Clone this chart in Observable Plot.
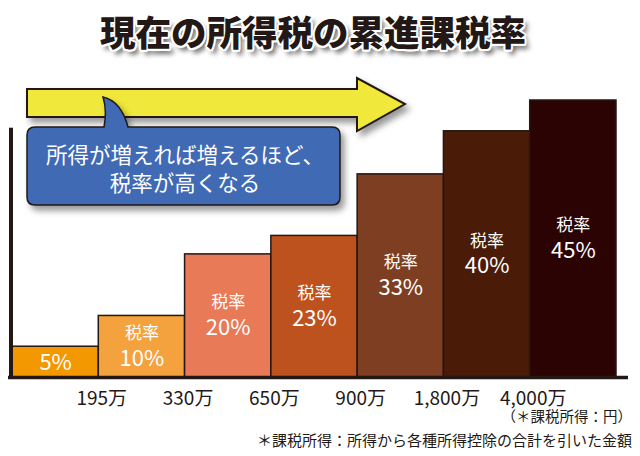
<!DOCTYPE html>
<html><head><meta charset="utf-8">
<script src="https://cdn.jsdelivr.net/npm/d3@7"></script>
<script src="https://cdn.jsdelivr.net/npm/@observablehq/plot@0.6"></script>
<style>
body{margin:0;background:#fff;font-family:"Noto Sans CJK JP","Noto Sans",sans-serif;color:#231815}
#wrap{position:relative;width:640px;height:456px;overflow:hidden;background:#fff}
#wrap > *{position:absolute}
#title{left:0;top:11px;width:626px;text-align:center;font-size:35.5px;line-height:40px;font-weight:900;color:#231815;
 text-shadow:2px 0 #fff,-2px 0 #fff,0 2px #fff,0 -2px #fff,1.5px 1.5px #fff,-1.5px -1.5px #fff,1.5px -1.5px #fff,-1.5px 1.5px #fff,4px 5px 5px rgba(0,0,0,0.6)}
.note{right:8px;font-size:15px;line-height:18px;color:#231815;white-space:nowrap}
</style></head><body><div id="wrap"></div>
<script>
// ---- data ----
const brackets = ["〜195万円", "195万〜330万円", "330万〜695万円", "695万〜900万円", "900万〜1,800万円", "1,800万〜4,000万円", "4,000万円〜"];
const rates = [5, 10, 20, 23, 33, 40, 45];
const rateTop = ["", "税率", "税率", "税率", "税率", "税率", "税率"];
const thresholds = ["195万", "330万", "650万", "900万", "1,800万", "4,000万"];
const barColors = ["#F39800", "#F3A23D", "#E87A57", "#BE521F", "#7E3E22", "#4A1B07", "#2C0303"];
const titleText = "現在の所得税の累進課税率";
const calloutLines = ["所得が増えれば増えるほど、", "税率が高くなる"];
const unitNote = "（＊課税所得：円）";
const defNote = "＊課税所得：所得から各種所得控除の合計を引いた金額";

const bars = brackets.map((b, i) => ({bracket: b, i, rate: rates[i], top: rateTop[i], pct: rates[i] + "%"}));
const ticks = thresholds.map((t, i) => ({label: t, pos: i + 1}));

const wrap = document.getElementById("wrap");

const chart = Plot.plot({
  width: 640, height: 456,
  marginLeft: 8, marginRight: 12, marginTop: 100, marginBottom: 79,
  x: {domain: [0, brackets.length], range: [12, 616], axis: null},
  y: {domain: [0, 45], axis: null},
  color: {domain: brackets, range: barColors},
  style: {fontFamily: '"Noto Sans CJK JP", sans-serif', background: "transparent", overflow: "visible"},
  marks: [
    Plot.rect(bars, {x1: "i", x2: d => d.i + 1, y1: 0, y2: "rate", fill: "bracket", stroke: "#231815", strokeWidth: 1.5}),
    Plot.text(bars.filter(d => d.top), {x: d => d.i + 0.5, y: d => d.rate / 2, text: "top", fill: "white", fontSize: 17, dy: -13}),
    Plot.text(bars.filter(d => d.top), {x: d => d.i + 0.5, y: d => d.rate / 2, text: "pct", fill: "white", fontSize: 22, dy: 12}),
    Plot.text(bars.filter(d => !d.top), {x: d => d.i + 0.5, y: d => d.rate / 2, text: "pct", fill: "white", fontSize: 22, dy: 1}),
    Plot.ruleY([0], {stroke: "#231815", strokeWidth: 3.5}),
    Plot.ruleX([0], {y1: 0, y2: 40.5, dx: -1.5, stroke: "#231815", strokeWidth: 4}),
    Plot.text(ticks, {x: "pos", y: 0, text: "label", dx: 3, dy: 21, fontSize: 19, fill: "#231815"})
  ]
});
chart.style.left = "0px"; chart.style.top = "0px";
wrap.appendChild(chart);

// decorative arrow + callout
const ns = "http://www.w3.org/2000/svg";
const deco = document.createElementNS(ns, "svg");
deco.setAttribute("width", 640); deco.setAttribute("height", 456);
deco.style.left = "0px"; deco.style.top = "0px";
deco.innerHTML = `
<defs><filter id="sh" x="-10%" y="-20%" width="130%" height="160%"><feDropShadow dx="4" dy="5" stdDeviation="3" flood-color="#000" flood-opacity="0.4"/></filter></defs>
<path d="M27,89 H357 V78 L405,104 L357,131 V117 H27 Z" fill="#F0E93A" stroke="#231815" stroke-width="2" stroke-linejoin="miter" filter="url(#sh)"/>
<path d="M35,127 H104 C106,116 106,106 103,97 C116,100 124,112 128,127 H332 Q340,127 340,135 V197 Q340,205 332,205 H35 Q27,205 27,197 V135 Q27,127 35,127 Z" fill="#3F6AB4" stroke="#231815" stroke-width="1.5" filter="url(#sh)"/>
`;
calloutLines.forEach((s, k) => {
  const t = document.createElementNS(ns, "text");
  t.setAttribute("x", 185); t.setAttribute("y", 163 + k * 28);
  t.setAttribute("text-anchor", "middle"); t.setAttribute("fill", "#fff");
  t.setAttribute("font-size", 21.5); t.setAttribute("font-family", '"Noto Sans CJK JP", sans-serif');
  t.textContent = s;
  deco.appendChild(t);
});
wrap.appendChild(deco);

const title = document.createElement("div");
title.id = "title"; title.textContent = titleText;
wrap.appendChild(title);

const n1 = document.createElement("div");
n1.className = "note"; n1.style.top = "407px"; n1.style.fontSize = "14.5px"; n1.textContent = unitNote;
wrap.appendChild(n1);
const n2 = document.createElement("div");
n2.className = "note"; n2.style.top = "431px"; n2.textContent = defNote;
wrap.appendChild(n2);
</script>
</body></html>
